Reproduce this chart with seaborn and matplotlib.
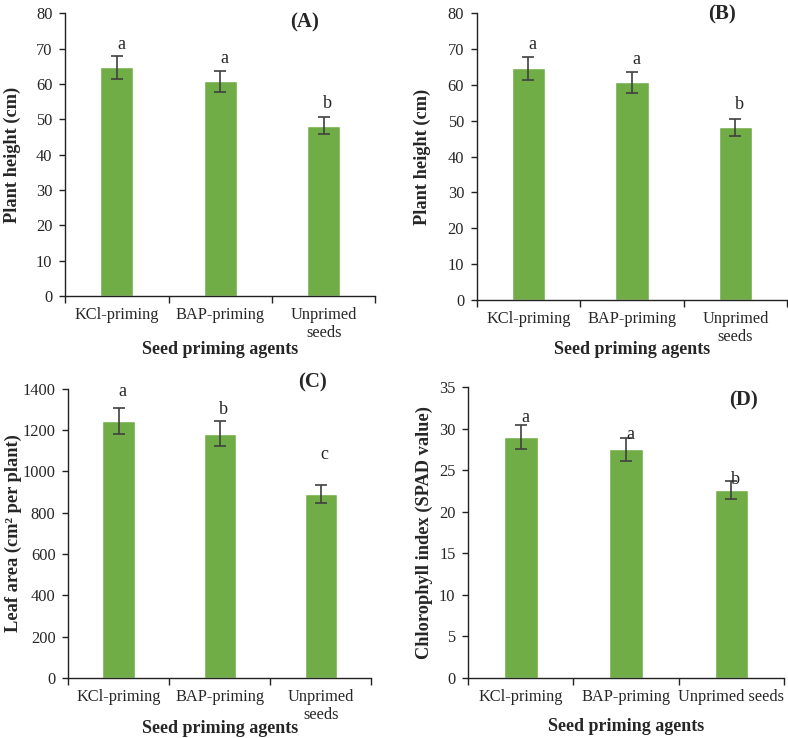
import matplotlib
matplotlib.use("Agg")
import matplotlib.pyplot as plt
import seaborn as sns
import pandas as pd
import numpy as np

sns.set_theme(style="ticks")
plt.rcParams['font.family'] = ['Liberation Serif', 'DejaVu Serif']

categories = ["KCl-priming", "BAP-priming", "Unprimed\nseeds"]
categories_d = ["KCl-priming", "BAP-priming", "Unprimed seeds"]

height_mean = [64.7, 60.7, 48.2]
height_err = [3.2, 3.0, 2.4]
height_letters = ["a", "a", "b"]

leaf_mean = [1245, 1183, 890]
leaf_err = [63, 60, 45]
leaf_letters = ["a", "b", "c"]

chl_mean = [29.0, 27.5, 22.6]
chl_err = [1.4, 1.4, 1.1]
chl_letters = ["a", "a", "b"]

BAR = "#70AD47"
ERR = "#404040"

fig = plt.figure(figsize=(7.88, 7.38), dpi=100)

panels = [
    dict(rect=[0.0825, 0.599, 0.394, 0.383], cats=categories, mean=height_mean, err=height_err,
         letters=height_letters, ylim=(0, 80), step=10, ylabel="Plant height (cm)",
         tag="(A)", tagpos=(0.77, 0.968), loff=[8.6, 8.6, 10],
         ylab=-0.17, xlab=-0.19),
    dict(rect=[0.605, 0.5935, 0.394, 0.3885], cats=categories, mean=height_mean, err=height_err,
         letters=height_letters, ylim=(0, 80), step=10, ylabel="Plant height (cm)",
         tag="(B)", tagpos=(0.79, 0.997), loff=[8.6, 8.6, 10],
         ylab=-0.174, xlab=-0.174),
    dict(rect=[0.0863, 0.0813, 0.385, 0.392], cats=categories, mean=leaf_mean, err=leaf_err,
         letters=leaf_letters, ylim=(0, 1400), step=200, ylabel="Leaf area (cm² per plant)",
         tag="(C)", tagpos=(0.805, 1.02), loff=[12, 8.6, 21.6],
         ylab=-0.18, xlab=-0.173),
    dict(rect=[0.594, 0.0813, 0.401, 0.3943], cats=categories_d, mean=chl_mean, err=chl_err,
         letters=chl_letters, ylim=(0, 35), step=5, ylabel="Chlorophyll index (SPAD value)",
         tag="(D)", tagpos=(0.873, 0.955), loff=[5.8, 2.2, 0.7],
         ylab=-0.139, xlab=-0.168),
]

for p in panels:
    ax = fig.add_axes(p["rect"])
    df = pd.DataFrame({"cat": p["cats"], "val": p["mean"]})
    sns.barplot(data=df, x="cat", y="val", color=BAR, saturation=1, width=0.32,
                errorbar=None, ax=ax)
    xs = np.arange(len(p["cats"]))
    ax.errorbar(xs, p["mean"], yerr=p["err"], fmt="none", ecolor=ERR,
                elinewidth=1.2, capsize=4, capthick=1.2)
    for x, m, e, l, o in zip(xs, p["mean"], p["err"], p["letters"], p["loff"]):
        ax.annotate(l, (x + 0.04, m + e), xytext=(0, o), textcoords="offset points",
                    ha="center", va="center", fontsize=13)
    ax.set_xlim(-0.5, 2.5)
    ax.set_ylim(*p["ylim"])
    ax.set_yticks(np.arange(p["ylim"][0], p["ylim"][1] + 0.1, p["step"]))
    ax.set_xticks([-0.5, 0.5, 1.5, 2.5], minor=False)
    ax.set_xticklabels([])
    ax.set_xticks(xs, minor=True)
    ax.set_xticklabels(p["cats"], minor=True, fontsize=11.8, linespacing=1.15)
    ax.tick_params(axis="x", which="minor", length=0, pad=8)
    ax.tick_params(axis="x", which="major", length=5, width=1, color="#222222")
    ax.tick_params(axis="y", length=4, width=1, labelsize=11.8, color="#222222", pad=5)
    sns.despine(ax=ax)
    for s in ["left", "bottom"]:
        ax.spines[s].set_color("#222222")
        ax.spines[s].set_linewidth(1.0)
    ax.set_xlabel("Seed priming agents", fontsize=13, fontweight="bold")
    ax.set_ylabel(p["ylabel"], fontsize=13.2, fontweight="bold")
    ax.yaxis.set_label_coords(p["ylab"], 0.5)
    ax.xaxis.set_label_coords(0.5, p["xlab"])
    ax.xaxis.label.set_va("center")
    ax.yaxis.label.set_va("center")
    ax.text(p["tagpos"][0], p["tagpos"][1], p["tag"], transform=ax.transAxes,
            fontsize=15, fontweight="bold", ha="center", va="center")

fig.savefig("out.png", dpi=100, facecolor="white")
